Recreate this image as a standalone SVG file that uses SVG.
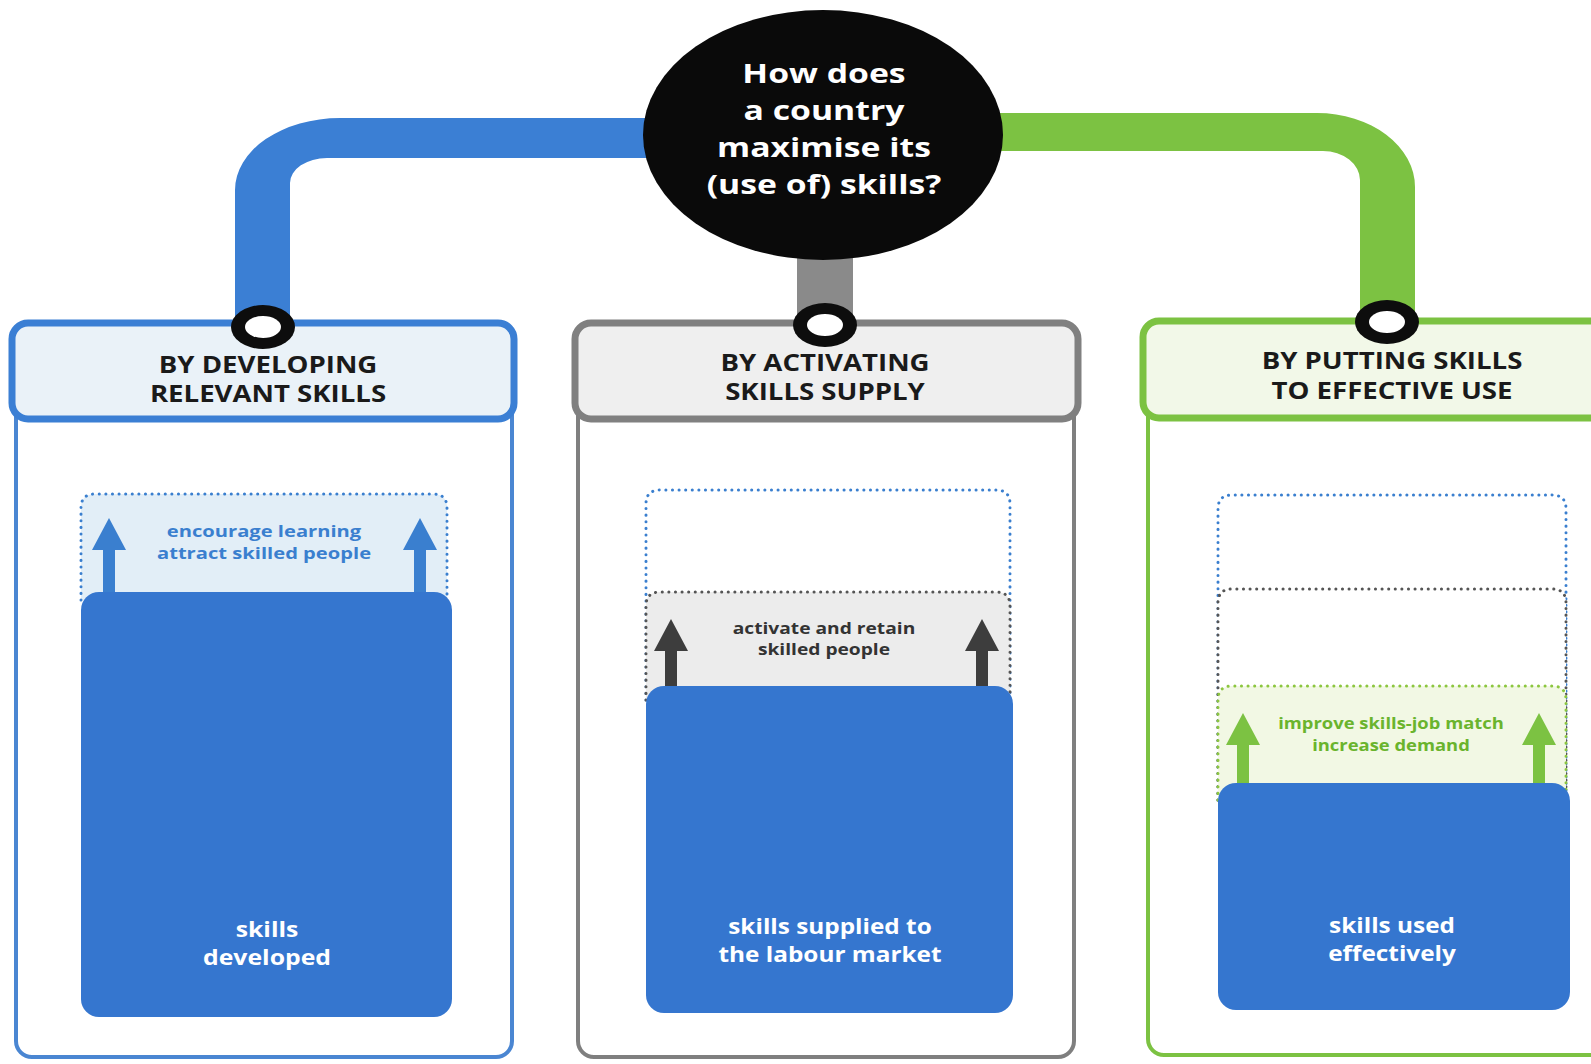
<svg xmlns="http://www.w3.org/2000/svg" width="1591" height="1064" viewBox="0 0 1591 1064">
<style>
.hdr{font-family:"Open Sans","Liberation Sans",sans-serif;font-weight:700;font-size:23px;fill:#1a1a1a;text-anchor:middle}
.q{font-family:"Open Sans","Liberation Sans",sans-serif;font-weight:700;font-size:27px;fill:#ffffff;text-anchor:middle}
.act{font-family:"Open Sans","Liberation Sans",sans-serif;font-weight:700;font-size:16px;text-anchor:middle}
.res{font-family:"Open Sans","Liberation Sans",sans-serif;font-weight:700;font-size:21px;fill:#ffffff;text-anchor:middle}
.dot{stroke-width:3;stroke-linecap:round;stroke-dasharray:0.1 6.5}
.bar{fill:#3576cf}
</style>
<defs>
<path id="arrow" d="M0 0 L17 32 L6 32 L6 80 L-6 80 L-6 32 L-17 32 Z"/>
</defs>

<g id="box-developing">
<rect x="16" y="380" width="496" height="677" rx="16" fill="#ffffff" stroke="#4a86d2" stroke-width="4"/>
<rect x="12" y="323" width="502" height="96" rx="16" fill="#eaf2f8" stroke="#3b7fd4" stroke-width="7"/>
<text class="hdr" transform="translate(268 373) scale(1.2 1)">BY DEVELOPING</text>
<text class="hdr" transform="translate(268 402) scale(1.2 1)">RELEVANT SKILLS</text>
<path d="M81 600 L81 508 Q81 494 95 494 L433 494 Q447 494 447 508 L447 600" fill="#e2eef7" stroke="#3a7fcf" class="dot"/>
<use href="#arrow" x="109" y="518" fill="#3a7fcf"/>
<use href="#arrow" x="420" y="518" fill="#3a7fcf"/>
<text class="act" fill="#3a7fcf" transform="translate(264 537) scale(1.26 1)">encourage learning</text>
<text class="act" fill="#3a7fcf" transform="translate(264 559) scale(1.26 1)">attract skilled people</text>
<rect class="bar" x="81" y="592" width="371" height="425" rx="18"/>
<text class="res" transform="translate(267 937) scale(1.18 1)">skills</text>
<text class="res" transform="translate(267 965) scale(1.18 1)">developed</text>
</g>

<g id="box-activating">
<rect x="578" y="380" width="496" height="677" rx="16" fill="#ffffff" stroke="#7f7f7f" stroke-width="4"/>
<rect x="575" y="323" width="503" height="96" rx="16" fill="#efefef" stroke="#808080" stroke-width="7"/>
<text class="hdr" transform="translate(825 371) scale(1.2 1)">BY ACTIVATING</text>
<text class="hdr" transform="translate(825 400) scale(1.2 1)">SKILLS SUPPLY</text>
<path d="M646 700 L646 504 Q646 490 660 490 L996 490 Q1010 490 1010 504 L1010 700" fill="#ffffff" stroke="#3a7fcf" class="dot"/>
<path d="M646 700 L646 606 Q646 592 660 592 L996 592 Q1010 592 1010 606 L1010 700" fill="#ececec" stroke="#555555" class="dot"/>
<use href="#arrow" x="671" y="619" fill="#3d3d3d"/>
<use href="#arrow" x="982" y="619" fill="#3d3d3d"/>
<text class="act" fill="#333333" transform="translate(824 634) scale(1.2 1)">activate and retain</text>
<text class="act" fill="#333333" transform="translate(824 655) scale(1.2 1)">skilled people</text>
<rect class="bar" x="646" y="686" width="367" height="327" rx="18"/>
<text class="res" transform="translate(830 934) scale(1.16 1)">skills supplied to</text>
<text class="res" transform="translate(830 962) scale(1.16 1)">the labour market</text>
</g>

<g id="box-putting">
<rect x="1148" y="380" width="470" height="675" rx="16" fill="#ffffff" stroke="#7cc242" stroke-width="4"/>
<rect x="1143" y="321" width="480" height="97" rx="16" fill="#f2f8e8" stroke="#7cc242" stroke-width="7"/>
<text class="hdr" transform="translate(1392 369) scale(1.2 1)">BY PUTTING SKILLS</text>
<text class="hdr" transform="translate(1392 399) scale(1.2 1)">TO EFFECTIVE USE</text>
<path d="M1218 800 L1218 509 Q1218 495 1232 495 L1552 495 Q1566 495 1566 509 L1566 800" fill="#ffffff" stroke="#3a7fcf" class="dot"/>
<path d="M1218 800 L1218 603 Q1218 589 1232 589 L1552 589 Q1566 589 1566 603 L1566 800" fill="#ffffff" stroke="#555555" class="dot"/>
<path d="M1218 800 L1218 700 Q1218 686 1232 686 L1552 686 Q1566 686 1566 700 L1566 800" fill="#f2f8e4" stroke="#8cc63f" class="dot"/>
<use href="#arrow" x="1243" y="713" fill="#7cc242"/>
<use href="#arrow" x="1539" y="713" fill="#7cc242"/>
<text class="act" fill="#6ab42d" transform="translate(1391 729) scale(1.15 1)">improve skills-job match</text>
<text class="act" fill="#6ab42d" transform="translate(1391 751) scale(1.15 1)">increase demand</text>
<rect class="bar" x="1218" y="783" width="352" height="227" rx="18"/>
<text class="res" transform="translate(1392 933) scale(1.16 1)">skills used</text>
<text class="res" transform="translate(1392 961) scale(1.16 1)">effectively</text>
</g>

<g id="connectors">
<path d="M700 118 L340 118 A105 72 0 0 0 235 190 L235 327 L290 327 L290 183 A37 25 0 0 1 327 158 L700 158 Z" fill="#3b7fd4"/>
<rect x="797" y="230" width="56" height="95" fill="#8a8a8a"/>
<path d="M950 113 L1317 113 A98 74 0 0 1 1415 187 L1415 322 L1360 322 L1360 180 A37 29 0 0 0 1323 151 L950 151 Z" fill="#7cc242"/>
<ellipse cx="263" cy="327" rx="32" ry="22" fill="#0d0d0d"/>
<ellipse cx="263" cy="327" rx="18" ry="11" fill="#ffffff"/>
<ellipse cx="825" cy="325" rx="32" ry="22" fill="#0d0d0d"/>
<ellipse cx="825" cy="325" rx="18" ry="11" fill="#ffffff"/>
<ellipse cx="1387" cy="322" rx="32" ry="22" fill="#0d0d0d"/>
<ellipse cx="1387" cy="322" rx="18" ry="11" fill="#ffffff"/>
</g>

<g id="question">
<ellipse cx="823" cy="135" rx="180" ry="125" fill="#0a0a0a"/>
<text class="q" transform="translate(824 83) scale(1.25 1)">How does</text>
<text class="q" transform="translate(824 120) scale(1.25 1)">a country</text>
<text class="q" transform="translate(824 157) scale(1.25 1)">maximise its</text>
<text class="q" transform="translate(824 194) scale(1.25 1)">(use of) skills?</text>
</g>
</svg>
